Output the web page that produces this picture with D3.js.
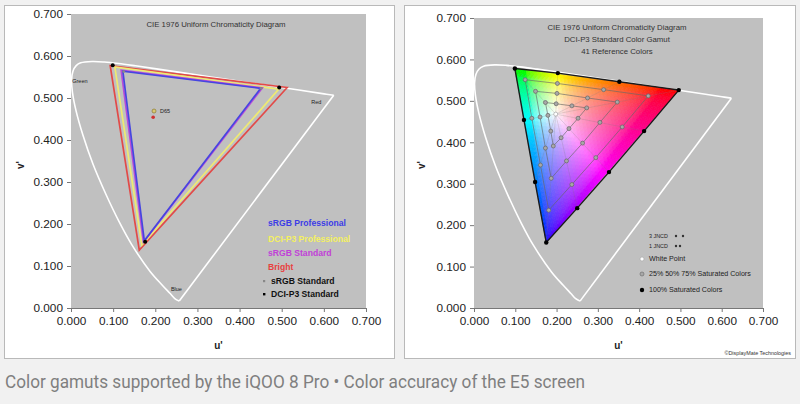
<!DOCTYPE html>
<html><head><meta charset="utf-8">
<script src="https://cdn.jsdelivr.net/npm/d3@7"></script>
<style>
html,body{margin:0;padding:0;background:#f1f1f1;}
svg{display:block;font-family:'Liberation Sans',Arial,sans-serif;}
svg text{font-family:'Liberation Sans',Arial,sans-serif;}
svg text.cap{font-family:'Liberation Sans Narrow','Roboto','Liberation Sans',sans-serif;}
</style></head>
<body>
<svg id="c" width="800" height="404"></svg>
<script>
// ---------- data ----------
const axisTicks = [0, 0.1, 0.2, 0.3, 0.4, 0.5, 0.6, 0.7];
// CIE 1976 spectral locus (u', v') + line of purples
const locusU = [0.2568,0.2463,0.2347,0.2161,0.1877,0.1441,0.1147,0.0828,0.0521,0.0282,0.0119,0.0035,0.0014,0.0046,0.0123,0.0231,0.0501,0.0792,0.1127,0.1531,0.2026,0.2623,0.3315,0.4035,0.5203,0.6005,0.6234];
const locusV = [0.0166,0.0226,0.0350,0.0549,0.0871,0.1510,0.2044,0.2708,0.3427,0.4117,0.4698,0.5131,0.5432,0.5638,0.5770,0.5837,0.5868,0.5856,0.5821,0.5766,0.5694,0.5604,0.5501,0.5393,0.5219,0.5099,0.5065];
const locusLabels = ["Green", "Red", "Blue"];

// left chart: measured gamuts (R, G, B vertices as [u', v'])
const srgbPro  = [[0.450,0.523],[0.123,0.564],[0.174,0.160]];
const dciP3Pro = [[0.493,0.521],[0.104,0.574],[0.168,0.150]];
const srgbStd  = [[0.454,0.524],[0.119,0.566],[0.172,0.157]];
const bright   = [[0.513,0.525],[0.093,0.577],[0.162,0.138]];
const srgbRef  = [[0.451,0.523],[0.125,0.563],[0.175,0.158]];
const p3Ref    = [[0.494,0.525],[0.099,0.578],[0.176,0.158]];
const d65Ref   = [0.197,0.469];
const d65Meas  = [0.195,0.454];
const leftLegend = ["sRGB Professional","DCI-P3 Professional","sRGB Standard","Bright","sRGB Standard","DCI-P3 Standard"];

// right chart: DCI-P3 41 reference colours
const whitePoint = [0.198,0.468];
const sat100 = [[0.099,0.578],[0.203,0.567],[0.352,0.546],[0.496,0.526],[0.412,0.427],[0.327,0.328],[0.250,0.241],[0.175,0.158],[0.148,0.304],[0.121,0.454]];
const sat75  = [[0.124,0.551],[0.202,0.542],[0.314,0.527],[0.422,0.512],[0.359,0.437],[0.295,0.363],[0.237,0.298],[0.181,0.236],[0.161,0.345],[0.140,0.458]];
const sat50  = [[0.149,0.523],[0.201,0.518],[0.275,0.507],[0.347,0.497],[0.305,0.448],[0.263,0.398],[0.224,0.355],[0.187,0.313],[0.173,0.386],[0.160,0.461]];
const sat25  = [[0.173,0.496],[0.199,0.493],[0.237,0.488],[0.273,0.483],[0.252,0.458],[0.230,0.433],[0.211,0.411],[0.192,0.391],[0.186,0.427],[0.179,0.465]];
const rightTitle = ["CIE 1976 Uniform Chromaticity Diagram","DCI-P3 Standard Color Gamut","41 Reference Colors"];
const rightLegend = ["3 JNCD","1 JNCD","White Point","25% 50% 75% Saturated Colors","100% Saturated Colors"];
const caption = "Color gamuts supported by the iQOO 8 Pro \u2022 Color accuracy of the E5 screen";

// ---------- drawing ----------
const svg = d3.select("#c");
const locus = locusU.map((u,i)=>[u, locusV[i]]);
const fmt = d3.format(".3f");

// panels
svg.append("rect").attr("x",4.5).attr("y",5.5).attr("width",390).attr("height",353).attr("fill","#fff").attr("stroke","#b9b9b9");
svg.append("rect").attr("x",404.5).attr("y",5.5).attr("width",391).attr("height",353).attr("fill","#fff").attr("stroke","#b9b9b9");

function frame(g, x, y, vx) {
  g.append("rect").attr("x",x(0)).attr("y",y(0.7)).attr("width",x(0.7)-x(0)).attr("height",y(0)-y(0.7)).attr("fill","#c0c0c0");
  const ax = g.append("g").attr("transform",`translate(0,${y(0)})`)
    .call(d3.axisBottom(x).tickValues(axisTicks).tickFormat(fmt).tickSize(4).tickPadding(5));
  const ay = g.append("g").attr("transform",`translate(${x(0)},0)`)
    .call(d3.axisLeft(y).tickValues(axisTicks).tickFormat(fmt).tickSize(4).tickPadding(4));
  [ax, ay].forEach(a=>{
    a.attr("font-family",null).attr("font-size",null);
    a.selectAll("text").style("font-size","11.8px").attr("fill","#222");
    a.selectAll("line,path").attr("stroke","#777");
  });
  ay.select(".domain").attr("stroke","none");
  g.append("text").attr("x",(x(0)+x(0.7))/2).attr("y",349).attr("text-anchor","middle")
    .attr("font-size",10).attr("font-weight","bold").attr("fill","#222").text("u'");
  g.append("text").attr("transform",`translate(${vx},165) rotate(-90)`).attr("text-anchor","middle")
    .attr("font-size",10).attr("font-weight","bold").attr("fill","#222").text("v'");
  // spectral locus
  const line = d3.line().x(d=>x(d[0])).y(d=>y(d[1])).curve(d3.curveCatmullRom);
  g.append("path").attr("d", line(locus)).attr("fill","none").attr("stroke","#fff").attr("stroke-width",1.6);
  g.append("path").attr("d", d3.line().x(d=>x(d[0])).y(d=>y(d[1]))([locus[locus.length-1], locus[0]]))
    .attr("fill","none").attr("stroke","#fff").attr("stroke-width",1.6);
}

// ===== LEFT =====
const xL = d3.scaleLinear().domain([0,0.7]).range([71,366]);
const yL = d3.scaleLinear().domain([0,0.7]).range([308,14]);
const gL = svg.append("g");
frame(gL, xL, yL, 24);
gL.append("text").attr("x",216).attr("y",27).attr("text-anchor","middle").attr("font-size",7.8).attr("fill","#333")
  .text("CIE 1976 Uniform Chromaticity Diagram");
gL.append("text").attr("x",xL(0.003)).attr("y",yL(0.54)+2).attr("font-size",5.5).attr("fill","#222").text(locusLabels[0]);
gL.append("text").attr("x",xL(0.57)).attr("y",yL(0.49)+2).attr("font-size",5.5).attr("fill","#222").text(locusLabels[1]);
gL.append("text").attr("x",xL(0.237)).attr("y",yL(0.046)+2).attr("font-size",5.5).attr("fill","#222").text(locusLabels[2]);

const poly = (x,y)=> pts => pts.map(p=>[x(p[0]),y(p[1])].join(",")).join(" ");
const pL = poly(xL,yL);
[[bright,"#e24a48"],[dciP3Pro,"#eeea72"],[srgbStd,"#b94ad8"],[srgbPro,"#4646e0"]].forEach(([pts,c])=>{
  gL.append("polygon").attr("points",pL(pts)).attr("fill","none").attr("stroke",c).attr("stroke-width",1.7).attr("stroke-linejoin","miter");
});
gL.selectAll(".sref").data(srgbRef).join("circle").attr("cx",d=>xL(d[0])).attr("cy",d=>yL(d[1])).attr("r",1.4).attr("fill","#888");
gL.selectAll(".pref").data(p3Ref).join("circle").attr("cx",d=>xL(d[0])).attr("cy",d=>yL(d[1])).attr("r",2).attr("fill","#000");
gL.append("circle").attr("cx",xL(d65Ref[0])).attr("cy",yL(d65Ref[1])).attr("r",2).attr("fill","#d8c870").attr("stroke","#8a7a30").attr("stroke-width",0.7);
gL.append("circle").attr("cx",xL(d65Meas[0])).attr("cy",yL(d65Meas[1])).attr("r",1.8).attr("fill","#d03030");
gL.append("text").attr("x",xL(d65Ref[0])+6).attr("y",yL(d65Ref[1])+2).attr("font-size",5.5).attr("fill","#222").text("D65");

const legCols = ["#3c3ce6","#f4f060","#c040d8","#e84040","#111","#111"];
const legY = [223,239,253,267,281,294];
leftLegend.forEach((t,i)=>{
  gL.append("text").attr("x",i<4?268:271).attr("y",legY[i]+3).attr("font-size",8.6).attr("font-weight","bold")
    .attr("fill",legCols[i]).text(t);
});
gL.append("rect").attr("x",263).attr("y",280).attr("width",2.2).attr("height",2.2).attr("fill","#888");
gL.append("rect").attr("x",263).attr("y",293).attr("width",2.4).attr("height",2.4).attr("fill","#000");

// ===== RIGHT =====
const xR = d3.scaleLinear().domain([0,0.7]).range([474,763]);
const yR = d3.scaleLinear().domain([0,0.7]).range([308,18]);
const gR = svg.append("g");
frame(gR, xR, yR, 425);
rightTitle.forEach((t,i)=>{
  gR.append("text").attr("x",617).attr("y",30+i*12).attr("text-anchor","middle").attr("font-size",7.8).attr("fill","#333").text(t);
});

// colour-filled gamut triangle (mesh)
function uvToRGB(u,v){
  const d = 6*u-16*v+12, x = 9*u/d, y = 4*v/d;
  const X = x/y, Y = 1, Z = (1-x-y)/y;
  let r = 3.2406*X-1.5372*Y-0.4986*Z, g = -0.9689*X+1.8758*Y+0.0415*Z, b = 0.0557*X-0.2040*Y+1.0570*Z;
  r=Math.max(r,0); g=Math.max(g,0); b=Math.max(b,0);
  const m = Math.max(r,g,b);
  const gam = c=>{c/=m; return Math.round(255*(c<=0.0031308?12.92*c:1.055*Math.pow(c,1/2.4)-0.055));};
  return `rgb(${gam(r)},${gam(g)},${gam(b)})`;
}
const A = sat100[0], B = sat100[3], C = sat100[7];
const N = 44;
const P = (i,j)=>[A[0]+(B[0]-A[0])*i/N+(C[0]-A[0])*j/N, A[1]+(B[1]-A[1])*i/N+(C[1]-A[1])*j/N];
const tris = [];
for(let i=0;i<N;i++) for(let j=0;j<N-i;j++){
  tris.push([P(i,j),P(i+1,j),P(i,j+1)]);
  if(i+j+1<N) tris.push([P(i+1,j),P(i+1,j+1),P(i,j+1)]);
}
const pR = poly(xR,yR);
const mesh = gR.append("g");
mesh.selectAll("polygon").data(tris).join("polygon")
  .attr("points",pR)
  .attr("fill",t=>uvToRGB((t[0][0]+t[1][0]+t[2][0])/3,(t[0][1]+t[1][1]+t[2][1])/3))
  .attr("stroke",t=>uvToRGB((t[0][0]+t[1][0]+t[2][0])/3,(t[0][1]+t[1][1]+t[2][1])/3))
  .attr("stroke-width",0.6);

// radial lines
gR.selectAll(".rad").data(sat100).join("line")
  .attr("x1",xR(whitePoint[0])).attr("y1",yR(whitePoint[1]))
  .attr("x2",d=>xR(d[0])).attr("y2",d=>yR(d[1]))
  .attr("stroke","#7a7a7a").attr("stroke-opacity",0.35).attr("stroke-width",0.6);
[sat75,sat50,sat25].forEach(s=>{
  gR.append("polygon").attr("points",pR(s)).attr("fill","none").attr("stroke","#666").attr("stroke-opacity",0.8).attr("stroke-width",0.8);
});
gR.append("polygon").attr("points",pR(sat100)).attr("fill","none").attr("stroke","#1a1a1a").attr("stroke-width",1.4);
[sat75,sat50,sat25].forEach(s=>{
  gR.selectAll(null).data(s).join("circle").attr("cx",d=>xR(d[0])).attr("cy",d=>yR(d[1])).attr("r",2)
    .attr("fill","#a8a8a8").attr("stroke","#666").attr("stroke-width",0.7);
});
gR.selectAll(null).data(sat100).join("circle").attr("cx",d=>xR(d[0])).attr("cy",d=>yR(d[1])).attr("r",2.2).attr("fill","#000");
gR.append("circle").attr("cx",xR(whitePoint[0])).attr("cy",yR(whitePoint[1])).attr("r",2).attr("fill","#fff").attr("stroke","#999").attr("stroke-width",0.6);

// right legend
const rlY = [236,246,259,274,290];
rightLegend.forEach((t,i)=>{
  gR.append("text").attr("x",649).attr("y",rlY[i]+2.3).attr("font-size",i<2?5.4:7.1).attr("fill","#222").text(t);
});
[[676,236],[683,236],[676,246],[680,246]].forEach(([cx,cy])=>{
  gR.append("circle").attr("cx",cx).attr("cy",cy).attr("r",1.2).attr("fill","#333");
});
gR.append("circle").attr("cx",642).attr("cy",259).attr("r",2).attr("fill","#fff").attr("stroke","#999").attr("stroke-width",0.5);
gR.append("circle").attr("cx",642).attr("cy",274).attr("r",2).attr("fill","#a8a8a8").attr("stroke","#666").attr("stroke-width",0.6);
gR.append("circle").attr("cx",642).attr("cy",290).attr("r",2.2).attr("fill","#000");
gR.append("text").attr("x",791).attr("y",355).attr("text-anchor","end").attr("font-size",5.4).attr("fill","#333").text("\u00a9DisplayMate Technologies");

// caption
svg.append("text").attr("class","cap").attr("x",5).attr("y",388).attr("font-size",19)
  .attr("fill","#7f7f7f").attr("textLength",580).attr("lengthAdjust","spacingAndGlyphs").text(caption);
</script>
</body></html>
